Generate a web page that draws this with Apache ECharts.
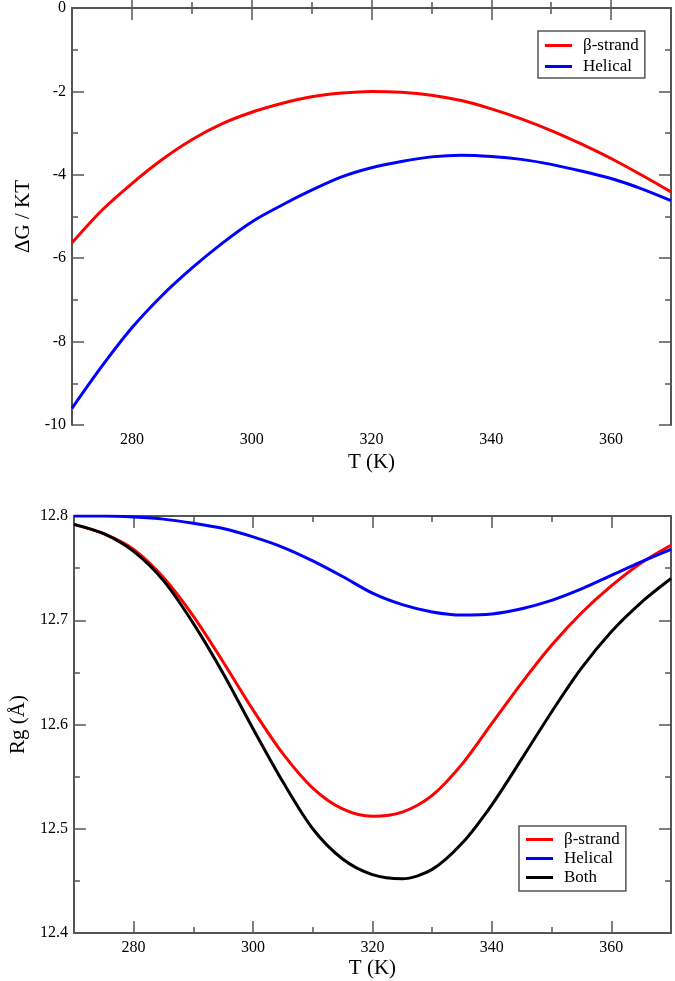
<!DOCTYPE html>
<html><head><meta charset="utf-8">
<script src="https://cdn.jsdelivr.net/npm/echarts@6/dist/echarts.min.js"></script>
<style>html,body{margin:0;padding:0;background:#fff}#c{width:675px;height:981px}</style>
</head><body><div id="c"></div>
<script>
// ---- data ----
const T = [270,275,280,285,290,295,300,305,310,315,320,325,330,335,340,345,350,355,360,365,370];
const dG_beta  = [-5.63,-4.85,-4.21,-3.64,-3.16,-2.78,-2.50,-2.29,-2.13,-2.04,-2.00,-2.02,-2.09,-2.22,-2.42,-2.66,-2.94,-3.26,-3.61,-4.00,-4.41];
const dG_helix = [-9.60,-8.59,-7.67,-6.90,-6.24,-5.65,-5.13,-4.73,-4.37,-4.05,-3.83,-3.68,-3.57,-3.53,-3.56,-3.63,-3.75,-3.91,-4.09,-4.33,-4.62];
const Rg_beta  = [12.792,12.783,12.768,12.741,12.704,12.660,12.614,12.572,12.539,12.519,12.512,12.516,12.532,12.562,12.601,12.640,12.676,12.707,12.733,12.755,12.772];
const Rg_helix = [12.800,12.800,12.799,12.797,12.793,12.788,12.780,12.770,12.757,12.742,12.726,12.715,12.708,12.705,12.706,12.711,12.719,12.730,12.743,12.756,12.768];
const Rg_both  = [12.792,12.783,12.766,12.738,12.697,12.649,12.596,12.545,12.500,12.471,12.456,12.452,12.461,12.486,12.523,12.567,12.612,12.654,12.689,12.717,12.740];
const xMajorTicks = [280,300,320,340,360];
const xMinorTicks = [290,310,330,350];
const legendTop = ['β-strand','Helical'];
const legendBot = ['β-strand','Helical','Both'];
const xTitle = 'T (K)';
const yTopTitle = 'ΔG / KT';
const yBotTitle = 'Rg (Å)';

// ---- styling ----
const FONT = '"Liberation Serif","DejaVu Serif",serif';
const AX = '#555';
const pair = (ys) => T.map((t,i)=>[t, ys[i]]);

function xAxes(g, withTitle, nameGap){
  const base = {gridIndex:g, type:'value', min:270, max:370, splitLine:{show:false}};
  return [
    Object.assign({}, base, {
      position:'bottom',
      axisLine:{show:true, lineStyle:{color:AX, width:2}},
      axisTick:{show:true, inside:true, length:12, customValues:xMajorTicks, lineStyle:{color:AX, width:1.5}},
      axisLabel:{show:true, customValues:xMajorTicks, color:'#000', fontSize:16, fontFamily:FONT, margin:7},
      name: withTitle ? xTitle : '', nameLocation:'middle', nameGap:nameGap,
      nameTextStyle:{color:'#000', fontSize:21, fontFamily:FONT}
    }),
    Object.assign({}, base, {
      position:'bottom', axisLine:{show:false},
      axisTick:{show:true, inside:true, length:6, customValues:xMinorTicks, lineStyle:{color:AX, width:1.5}},
      axisLabel:{show:false}
    }),
    Object.assign({}, base, {
      position:'top',
      axisLine:{show:true, lineStyle:{color:AX, width:2}},
      axisTick:{show:true, inside:true, length:12, customValues:xMajorTicks, lineStyle:{color:AX, width:1.5}},
      axisLabel:{show:false}
    }),
    Object.assign({}, base, {
      position:'top', axisLine:{show:false},
      axisTick:{show:true, inside:true, length:6, customValues:xMinorTicks, lineStyle:{color:AX, width:1.5}},
      axisLabel:{show:false}
    })
  ];
}

function yAxes(g, min, max, interval, title, nameGap){
  const base = {gridIndex:g, type:'value', min:min, max:max, interval:interval, splitLine:{show:false},
    minorTick:{show:true, splitNumber:2, length:6, lineStyle:{color:AX, width:1.5}},
    axisTick:{show:true, inside:true, length:12, lineStyle:{color:AX, width:1.5}},
    axisLine:{show:true, lineStyle:{color:AX, width:2}}};
  return [
    Object.assign({}, base, {position:'left',
      axisLabel:{show:true, color:'#000', fontSize:16, fontFamily:FONT, margin:6,
        formatter:(v)=> (Math.abs(v) < 1e-9 ? '0' : (interval < 1 ? v.toFixed(1) : String(Math.round(v))))},
      name:title, nameLocation:'middle', nameGap:nameGap, nameRotate:90,
      nameTextStyle:{color:'#000', fontSize:21, fontFamily:FONT}}),
    Object.assign({}, base, {position:'right', axisLabel:{show:false}})
  ];
}

const xs = xAxes(0, true, 27).concat(xAxes(1, true, 25));
const ys = yAxes(0, -10, 0, 2, yTopTitle, 24).concat(yAxes(1, 12.4, 12.8, 0.1, yBotTitle, 33));

function line(name, color, data, xi, yi){
  return {type:'line', name:name, xAxisIndex:xi, yAxisIndex:yi, data:pair(data),
    showSymbol:false, smooth:0.3, lineStyle:{color:color, width:3}, itemStyle:{color:color},
    animation:false, z:3};
}

const legendCommon = {orient:'vertical', icon:'rect', itemWidth:27, itemHeight:3,
  borderColor:'#555', borderWidth:1.5, backgroundColor:'#fff',
  textStyle:{color:'#000', fontSize:17, fontFamily:FONT, padding:[0,0,0,6]},
  selectedMode:false};

const option = {
  animation:false,
  backgroundColor:'#fff',
  grid:[
    {left:72, top:7, width:599, height:418},
    {left:72, top:516, width:599, height:417}
  ],
  xAxis: xs,
  yAxis: ys,
  legend:[
    Object.assign({}, legendCommon, {data:legendTop, left:538, top:31, itemGap:4, padding:[6,6,3,7]}),
    Object.assign({}, legendCommon, {data:legendBot, left:519, top:826, itemGap:2, padding:[5,6,5,7]})
  ],
  series:[
    line('β-strand', '#ff0000', dG_beta, 0, 0),
    line('Helical', '#0000ff', dG_helix, 0, 0),
    line('β-strand', '#ff0000', Rg_beta, 4, 2),
    line('Helical', '#0000ff', Rg_helix, 4, 2),
    line('Both', '#000000', Rg_both, 4, 2)
  ]
};
const chart = echarts.init(document.getElementById('c'), null, {renderer:'canvas'});
chart.setOption(option);
</script>
</body></html>
